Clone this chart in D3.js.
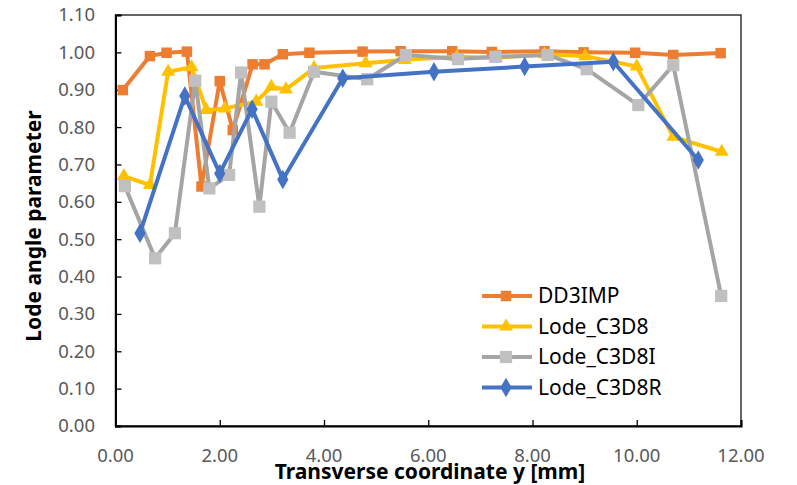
<!DOCTYPE html>
<html>
<head>
<meta charset="utf-8">
<script src="https://cdn.jsdelivr.net/npm/d3@7"></script>
<style>
  body { margin: 0; background: #fff; }
  svg { display: block; font-family: "Noto Sans", sans-serif; }
</style>
</head>
<body>
<script>
// data
const seriesNames = ["DD3IMP", "Lode_C3D8", "Lode_C3D8I", "Lode_C3D8R"];

const xDD3IMP = [0.14, 0.66, 0.98, 1.37, 1.65, 2.00, 2.25, 2.63, 2.86, 3.21, 3.72, 4.74, 5.47, 6.46, 7.22, 8.23, 8.98, 9.97, 10.70, 11.61];
const yDD3IMP = [0.899, 0.990, 0.999, 1.002, 0.641, 0.923, 0.792, 0.968, 0.968, 0.995, 0.999, 1.002, 1.003, 1.003, 1.001, 1.003, 1.000, 0.999, 0.993, 0.998];

const xC3D8 = [0.16, 0.66, 1.01, 1.46, 1.74, 2.10, 2.70, 2.99, 3.27, 3.81, 4.80, 5.55, 6.55, 7.29, 8.23, 9.01, 10.00, 10.70, 11.63];
const yC3D8 = [0.669, 0.645, 0.948, 0.960, 0.846, 0.850, 0.868, 0.908, 0.901, 0.958, 0.971, 0.980, 0.988, 0.985, 0.995, 0.990, 0.962, 0.774, 0.734];

const xC3D8I = [0.18, 0.76, 1.14, 1.53, 1.80, 2.18, 2.41, 2.76, 2.99, 3.34, 3.81, 4.83, 5.57, 6.57, 7.29, 8.29, 9.04, 10.03, 10.70, 11.62];
const yC3D8I = [0.642, 0.449, 0.516, 0.924, 0.636, 0.672, 0.946, 0.587, 0.868, 0.785, 0.948, 0.928, 0.993, 0.982, 0.988, 0.993, 0.955, 0.859, 0.966, 0.348];

const xC3D8R = [0.47, 1.33, 2.00, 2.62, 3.21, 4.36, 6.11, 7.85, 9.55, 11.18];
const yC3D8R = [0.516, 0.883, 0.676, 0.848, 0.660, 0.931, 0.948, 0.962, 0.975, 0.712];

const xTicks = [0, 2, 4, 6, 8, 10, 12];
const yTicks = [0, 0.1, 0.2, 0.3, 0.4, 0.5, 0.6, 0.7, 0.8, 0.9, 1.0, 1.1];

const width = 797, height = 485;
const margin = {top: 15, right: 56, bottom: 59, left: 115.5};

const svg = d3.select("body").append("svg")
    .attr("width", width)
    .attr("height", height);

const xscale = d3.scaleLinear().domain([0, 12]).range([margin.left, width - margin.right]);
const yscale = d3.scaleLinear().domain([0, 1.1]).range([height - margin.bottom, margin.top]);

// plot area border
svg.append("rect")
    .attr("x", xscale(0)).attr("y", yscale(1.1))
    .attr("width", xscale(12) - xscale(0))
    .attr("height", yscale(0) - yscale(1.1))
    .attr("fill", "none")
    .attr("stroke", "#333")
    .attr("stroke-width", 1.5);

// axes, ticks pointing into the plot
const xAxis = svg.append("g")
    .attr("transform", `translate(0,${yscale(0)})`)
    .call(d3.axisTop(xscale).tickValues(xTicks).tickSize(6).tickFormat(""));
const yAxis = svg.append("g")
    .attr("transform", `translate(${xscale(0)},0)`)
    .call(d3.axisRight(yscale).tickValues(yTicks).tickSize(6).tickFormat(""));
[xAxis, yAxis].forEach(g => {
    g.select(".domain").attr("stroke", "#000").attr("stroke-width", 2);
    g.selectAll(".tick line").attr("stroke", "#000").attr("stroke-width", 1.3);
});

// tick labels
svg.selectAll(".xlab").data(xTicks).enter().append("text")
    .attr("x", d => xscale(d))
    .attr("y", 462)
    .attr("text-anchor", "middle")
    .attr("font-size", 18.5)
    .attr("fill", "#595959")
    .text(d => d3.format(".2f")(d));

svg.selectAll(".ylab").data(yTicks).enter().append("text")
    .attr("x", 95)
    .attr("y", d => yscale(d))
    .attr("dy", "0.35em")
    .attr("text-anchor", "end")
    .attr("font-size", 18.5)
    .attr("fill", "#595959")
    .text(d => d3.format(".2f")(d));

// axis titles
svg.append("text")
    .attr("x", 430)
    .attr("y", 479)
    .attr("text-anchor", "middle")
    .attr("font-size", 21)
    .attr("font-weight", "bold")
    .attr("fill", "#000")
    .text("Transverse coordinate y [mm]");

svg.append("text")
    .attr("transform", "translate(41,226) rotate(-90)")
    .attr("text-anchor", "middle")
    .attr("font-size", 21)
    .attr("font-weight", "bold")
    .attr("fill", "#000")
    .text("Lode angle parameter");

// series
const series = [
    {name: seriesNames[0], xs: xDD3IMP, ys: yDD3IMP, line: "#ED7D31", fill: "#ED7D31", sym: d3.symbolSquare, size: 110},
    {name: seriesNames[1], xs: xC3D8,  ys: yC3D8,  line: "#FFC000", fill: "#FFC000", sym: d3.symbolTriangle, size: 85},
    {name: seriesNames[2], xs: xC3D8I, ys: yC3D8I, line: "#A5A5A5", fill: "#C0C0C0", sym: d3.symbolSquare, size: 150},
    {name: seriesNames[3], xs: xC3D8R, ys: yC3D8R, line: "#4472C4", fill: "#4472C4", sym: d3.symbolDiamond, size: 110}
];

const line = d3.line().x(d => xscale(d[0])).y(d => yscale(d[1]));

series.forEach(s => {
    const pts = s.xs.map((x, i) => [x, s.ys[i]]);
    const g = svg.append("g");
    g.append("path")
        .datum(pts)
        .attr("d", line)
        .attr("fill", "none")
        .attr("stroke", s.line)
        .attr("stroke-width", 4)
        .attr("stroke-linejoin", "round");
    g.selectAll("path.mk").data(pts).enter().append("path")
        .attr("class", "mk")
        .attr("transform", d => `translate(${xscale(d[0])},${yscale(d[1])})`)
        .attr("d", d3.symbol().type(s.sym).size(s.size))
        .attr("fill", s.fill);
});

// legend
const legend = svg.append("g").attr("transform", "translate(482,296)");
series.forEach((s, i) => {
    const row = legend.append("g").attr("transform", `translate(0,${i * 30.5})`);
    row.append("line")
        .attr("x1", 0).attr("x2", 50)
        .attr("stroke", s.line)
        .attr("stroke-width", 4);
    row.append("path")
        .attr("transform", "translate(24,0)")
        .attr("d", d3.symbol().type(s.sym).size(s.size))
        .attr("fill", s.fill);
    row.append("text")
        .attr("x", 56)
        .attr("dy", "0.35em")
        .attr("font-size", 21)
        .attr("fill", "#000")
        .text(s.name);
});
</script>
</body>
</html>
